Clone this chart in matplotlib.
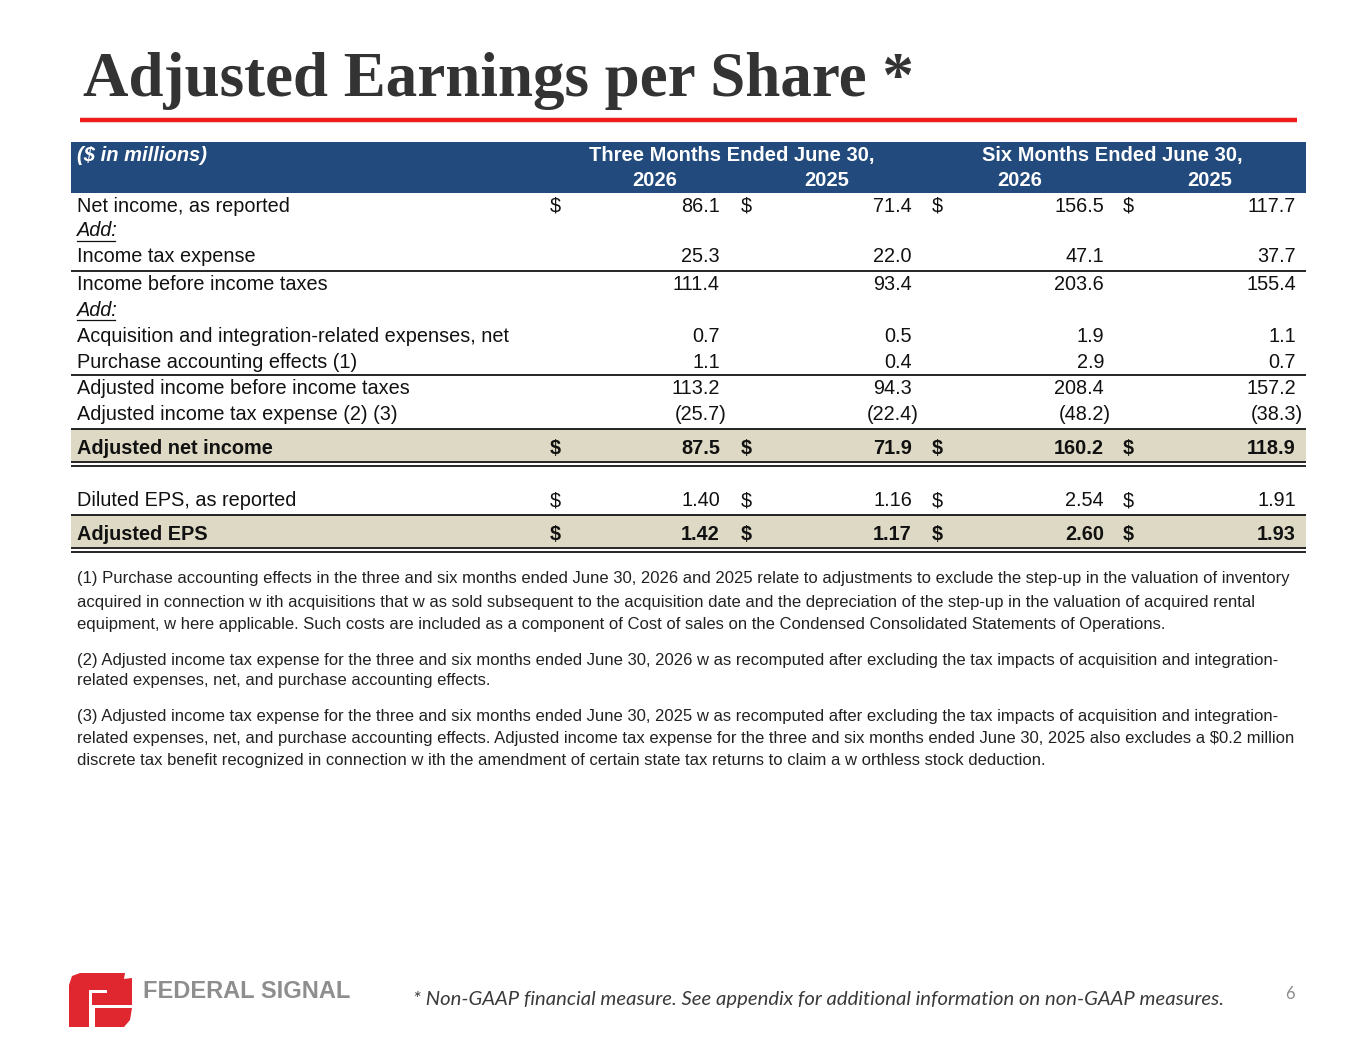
import matplotlib
matplotlib.use("Agg")
import matplotlib.pyplot as plt
from matplotlib.patches import Rectangle, Polygon

# ---------------- data ----------------
title = "Adjusted Earnings per Share *"
units_label = "($ in millions)"
period_headers = ["Three Months Ended June 30,", "Six Months Ended June 30,"]
years = ["2026", "2025", "2026", "2025"]

row_labels = [
    "Net income, as reported",
    "Add:",
    "Income tax expense",
    "Income before income taxes",
    "Add:",
    "Acquisition and integration-related expenses, net",
    "Purchase accounting effects (1)",
    "Adjusted income before income taxes",
    "Adjusted income tax expense (2) (3)",
    "Adjusted net income",
    "Diluted EPS, as reported",
    "Adjusted EPS",
]
net_income = [86.1, 71.4, 156.5, 117.7]
income_tax = [25.3, 22.0, 47.1, 37.7]
income_before_tax = [111.4, 93.4, 203.6, 155.4]
acq_integration = [0.7, 0.5, 1.9, 1.1]
purchase_acct = [1.1, 0.4, 2.9, 0.7]
adj_income_before_tax = [113.2, 94.3, 208.4, 157.2]
adj_income_tax = [-25.7, -22.4, -48.2, -38.3]
adj_net_income = [87.5, 71.9, 160.2, 118.9]
diluted_eps = [1.40, 1.16, 2.54, 1.91]
adj_eps = [1.42, 1.17, 2.60, 1.93]

row_values = [net_income, None, income_tax, income_before_tax, None,
              acq_integration, purchase_acct, adj_income_before_tax,
              adj_income_tax, adj_net_income, diluted_eps, adj_eps]
dollar_rows = {0, 9, 10, 11}
bold_rows = {9, 11}
eps_rows = {10, 11}
italic_rows = {1, 4}

footnotes = [
    ["(1) Purchase accounting effects in the three and six months ended June 30, 2026 and 2025 relate to adjustments to exclude the step-up in the valuation of inventory",
     "acquired in connection w ith acquisitions that w as sold subsequent to the acquisition date and the depreciation of the step-up in the valuation of acquired rental",
     "equipment, w here applicable. Such costs are included as a component of Cost of sales on the Condensed Consolidated Statements of Operations."],
    ["(2) Adjusted income tax expense for the three and six months ended June 30, 2026 w as recomputed after excluding the tax impacts of acquisition and integration-",
     "related expenses, net, and purchase accounting effects."],
    ["(3) Adjusted income tax expense for the three and six months ended June 30, 2025 w as recomputed after excluding the tax impacts of acquisition and integration-",
     "related expenses, net, and purchase accounting effects. Adjusted income tax expense for the three and six months ended June 30, 2025 also excludes a $0.2 million",
     "discrete tax benefit recognized in connection w ith the amendment of certain state tax returns to claim a w orthless stock deduction."],
]
footer_note = "* Non-GAAP financial measure. See appendix for additional information on non-GAAP measures."
page_number = "6"
company = "FEDERAL SIGNAL"

# ---------------- styling ----------------
NAVY = "#234a7c"
BEIGE = "#ddd9c4"
TXT = "#111111"
SANS = ["Liberation Sans", "DejaVu Sans"]
BODY = 14.3
HEAD = 14.5

fig = plt.figure(figsize=(13.65, 10.55), dpi=100)
ax = fig.add_axes([0, 0, 1, 1])
ax.set_xlim(0, 1365)
ax.set_ylim(1055, 0)
ax.axis("off")
fig.canvas.draw()
renderer = fig.canvas.get_renderer()


def fit(t, width):
    w = t.get_window_extent(renderer).width
    t.set_fontsize(t.get_fontsize() * width / w)


# Title
t = ax.text(83, 96, title, fontsize=48, fontweight="bold", family=["Liberation Serif", "DejaVu Serif"],
            color="#333333", ha="left", va="baseline")
fit(t, 830)
ax.plot([80, 1297], [119.5, 119.5], color="#ee1c1c", lw=3.2, solid_capstyle="butt")

# Header band
L, R = 71, 1306
ax.add_patch(Rectangle((L, 142), R - L, 51, color=NAVY, lw=0))
ax.text(77, 161, units_label, fontsize=HEAD, fontstyle="italic", fontweight="bold", color="white",
        family=SANS, va="baseline", ha="left")
for x, h in zip([732, 1112], period_headers):
    ax.text(x, 161, h, fontsize=HEAD, fontweight="bold", color="white", family=SANS,
            va="baseline", ha="center")
for x, y in zip([655, 827, 1020, 1210], years):
    ax.text(x, 186, y, fontsize=HEAD, fontweight="bold", color="white", family=SANS,
            va="baseline", ha="center")

# Rows
row_y = [206, 231, 257, 284, 310, 336, 362, 388, 414, 448, 501, 535]
dollar_x = [555, 746, 937, 1128]
right_x = [720, 912, 1104, 1296]

# beige highlight bands
ax.add_patch(Rectangle((L, 429), R - L, 32, color=BEIGE, lw=0))
ax.add_patch(Rectangle((L, 515), R - L, 32, color=BEIGE, lw=0))

for i, (lab, vals, y) in enumerate(zip(row_labels, row_values, row_y)):
    fw = "bold" if i in bold_rows else "normal"
    fs = "italic" if i in italic_rows else "normal"
    ax.text(77, y, lab, fontsize=BODY, fontweight=fw, fontstyle=fs, color=TXT, family=SANS,
            va="center", ha="left")
    if i in italic_rows:
        ax.plot([77, 115], [y + 10, y + 10], color=TXT, lw=0.9)
    if vals is None:
        continue
    for j, v in enumerate(vals):
        if i in dollar_rows:
            ax.text(dollar_x[j], y, "$", fontsize=BODY, fontweight=fw, color=TXT, family=SANS,
                    va="center", ha="center")
        s = f"{abs(v):.2f}" if i in eps_rows else f"{abs(v):.1f}"
        if v < 0:
            ax.text(right_x[j] + 7, y, f"({s})", fontsize=BODY, fontweight=fw, color=TXT, family=SANS,
                    va="center", ha="right")
        else:
            ax.text(right_x[j], y, s, fontsize=BODY, fontweight=fw, color=TXT, family=SANS,
                    va="center", ha="right")

# rules
for y in [270.5, 374.5, 428.5, 514.5]:
    ax.plot([L, R], [y, y], color="#000000", lw=1.2, solid_capstyle="butt")
for y in [462, 465.5, 548, 551.5]:
    ax.plot([L, R], [y, y], color="#000000", lw=1.2, solid_capstyle="butt")

# Footnotes
fy = [[579, 602, 625], [660, 681], [717, 738, 760]]
for para, ys in zip(footnotes, fy):
    for line, y in zip(para, ys):
        ax.text(77, y, line, fontsize=12.0, color="#222222", family=SANS, va="center", ha="left")

# Footer
ft = ax.text(413, 1000, footer_note, fontsize=13, fontstyle="italic", color="#3a3a3a",
             family=["Lato", "DejaVu Sans"], va="center", ha="left")
fit(ft, 809)
ax.text(1290, 994, page_number, fontsize=12, color="#8c8c8c", family=["Lato", "DejaVu Sans"],
        va="center", ha="center")

# Logo
RED = "#e0262e"
ax.add_patch(Polygon([(69, 985), (72, 976), (80, 973), (125, 973), (122, 990), (89, 990),
                      (89, 1027), (69, 1027)], closed=True, color=RED, lw=0))
ax.add_patch(Polygon([(107, 981), (132, 978), (132, 1005), (92, 1005), (92, 993), (107, 993)],
                     closed=True, color=RED, lw=0))
ax.add_patch(Polygon([(95, 1008), (132, 1008), (130, 1020), (124, 1027), (95, 1027)],
                     closed=True, color=RED, lw=0))
lt = ax.text(143, 992, company, fontsize=17, fontweight="heavy", color="#8e8e8e",
             family=["Liberation Sans", "DejaVu Sans"], va="center", ha="left")
fit(lt, 208)

fig.savefig("out.png", dpi=100)
